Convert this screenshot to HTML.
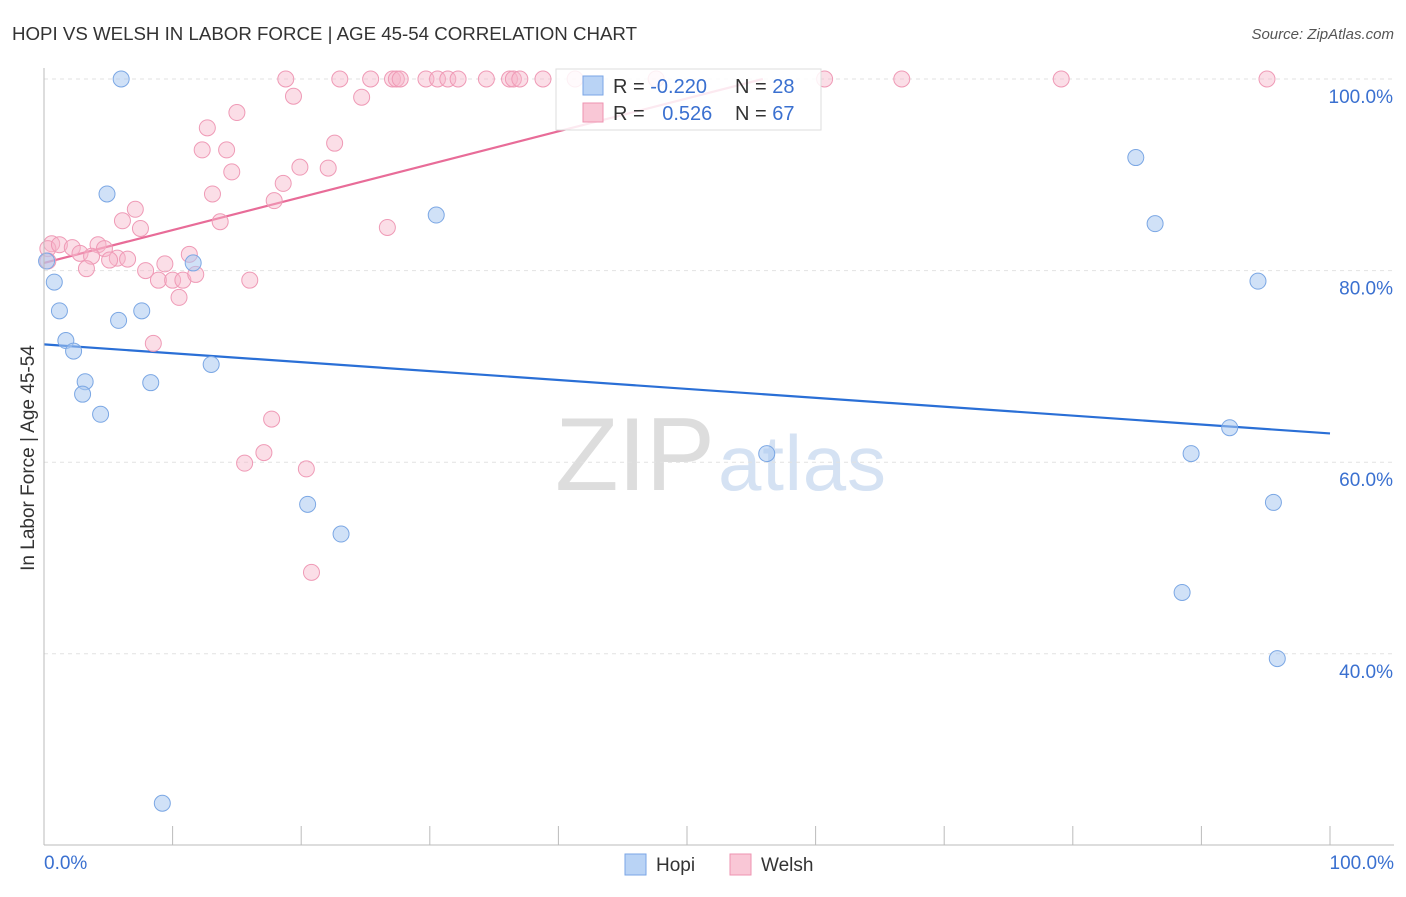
<!DOCTYPE html>
<html><head><meta charset="utf-8"><style>
body{margin:0;background:#fff;font-family:"Liberation Sans",sans-serif;}
svg text{font-family:"Liberation Sans",sans-serif;}
</style></head><body>
<svg id="c" width="1406" height="892" xmlns="http://www.w3.org/2000/svg">
<text x="12" y="40" font-size="18.7" fill="#333" textLength="625">HOPI VS WELSH IN LABOR FORCE | AGE 45-54 CORRELATION CHART</text>
<text x="1394" y="39" font-size="15" fill="#555" text-anchor="end" font-style="italic">Source: ZipAtlas.com</text>
<text x="34" y="458" font-size="19" fill="#333" text-anchor="middle" transform="rotate(-90 34 458)">In Labor Force | Age 45-54</text>
<text x="555" y="490" font-size="104" fill="#ddd" font-family="Liberation Serif" textLength="160">ZIP</text>
<text x="718" y="490" font-size="78" fill="#d5e2f3" textLength="168">atlas</text>
<g id="grid"></g><g id="ticks"></g><g id="lines"></g><g id="pts"></g>
<line x1="44" y1="68" x2="44" y2="845" stroke="#bbb"/>
<line x1="44" y1="845" x2="1394" y2="845" stroke="#bbb"/>
<text x="44" y="869" font-size="19" fill="#3a70d0">0.0%</text>
<text x="1394" y="869" font-size="19" fill="#3a70d0" text-anchor="end">100.0%</text>
<g>
<rect x="556" y="69" width="265" height="61" fill="rgba(255,255,255,0.85)" stroke="#ddd"/>
<rect x="583" y="76" width="20" height="19" fill="#b9d3f5" stroke="#7aa6e6"/>
<rect x="583" y="103" width="20" height="19" fill="#f9c7d6" stroke="#ee93b0"/>
<text x="613" y="93" font-size="20" fill="#333">R = <tspan fill="#3a70d0">-0.220</tspan></text>
<text x="735" y="93" font-size="20" fill="#333">N = <tspan fill="#3a70d0">28</tspan></text>
<text x="613" y="120" font-size="20" fill="#333">R = <tspan fill="#3a70d0" dx="12">0.526</tspan></text>
<text x="735" y="120" font-size="20" fill="#333">N = <tspan fill="#3a70d0">67</tspan></text>
</g>
<g><rect x="625" y="854" width="21" height="21" fill="#b9d3f5" stroke="#7aa6e6"/><text x="656" y="871" font-size="19" fill="#333">Hopi</text></g>
<g><rect x="730" y="854" width="21" height="21" fill="#f9c7d6" stroke="#ee93b0"/><text x="761" y="871" font-size="19" fill="#333">Welsh</text></g>
</svg>
<script>
const yTicks=[100,80,60,40];
const yTickLabels=["100.0%","80.0%","60.0%","40.0%"];
const xTicks=[0,10,20,30,40,50,60,70,80,90,100];
const hopiX=[6.0,4.9,0.2,0.8,1.2,1.7,2.3,3.2,3.0,4.4,5.8,7.6,8.3,11.6,13.0,20.5,23.1,30.5,9.2,56.2,84.9,86.4,94.4,92.2,89.2,95.6,88.5,95.9];
const hopiY=[100,88.0,81.0,78.8,75.8,72.7,71.6,68.4,67.1,65.0,74.8,75.8,68.3,80.8,70.2,55.6,52.5,85.8,24.4,60.9,91.8,84.9,78.9,63.6,60.9,55.8,46.4,39.5];
const welshX=[18.8,23.0,25.4,27.1,27.4,27.7,29.7,30.6,31.4,32.2,34.4,36.2,36.5,37.0,38.8,41.3,47.6,60.7,66.7,79.1,95.1,
19.4,24.7,15.0,12.7,12.3,14.2,22.6,14.6,19.9,22.1,18.6,13.1,17.9,7.1,6.1,13.7,7.5,26.7,0.6,0.3,1.2,2.2,4.2,4.7,2.8,3.7,5.7,5.1,6.5,11.3,3.3,7.9,9.4,8.9,10.0,10.8,11.8,16.0,10.5,8.5,17.7,17.1,15.6,20.4,20.8,0.3];
const welshY=[100,100,100,100,100,100,100,100,100,100,100,100,100,100,100,100,100,100,100,100,100,
98.2,98.1,96.5,94.9,92.6,92.6,93.3,90.3,90.8,90.7,89.1,88.0,87.3,86.4,85.2,85.1,84.4,84.5,82.8,82.3,82.7,82.4,82.7,82.3,81.8,81.5,81.3,81.1,81.2,81.7,80.2,80.0,80.7,79.0,79.0,79.0,79.6,79.0,77.2,72.4,64.5,61.0,59.9,59.3,48.5,81.0];
const hopiTrend=[[0,72.3],[100,63.0]];
const welshTrend=[[0,80.8],[55.9,100]];
const X=v=>44+v*12.86, Y=v=>79+(100-v)*9.58;
const ns="http://www.w3.org/2000/svg";
function mk(t,a,p){const e=document.createElementNS(ns,t);for(const k in a)e.setAttribute(k,a[k]);document.getElementById(p).appendChild(e);return e;}
yTicks.forEach((t,i)=>{
 const l=mk('line',{x1:44,x2:1394,y1:Y(t),y2:Y(t),stroke:'#e2e2e2','stroke-dasharray':'4 4'},'grid');
 
 
 const tx=mk('text',{x:1393,y:Y(t)+24,'font-size':19,fill:'#3a70d0','text-anchor':'end'},'grid');
 tx.textContent=yTickLabels[i];
 
 
});
xTicks.forEach(t=>{
 const l=mk('line',{x1:X(t),x2:X(t),y1:826,y2:845,stroke:'#bbb'},'ticks');
 
 
});
const hl=mk('line',{x1:X(hopiTrend[0][0]),y1:Y(hopiTrend[0][1]),x2:X(hopiTrend[1][0]),y2:Y(hopiTrend[1][1]),stroke:'#2a6fd6','stroke-width':2.2},'lines');


const wl=mk('line',{x1:X(welshTrend[0][0]),y1:Y(welshTrend[0][1]),x2:X(welshTrend[1][0]),y2:Y(welshTrend[1][1]),stroke:'#e86c98','stroke-width':2.2},'lines');


welshX.forEach((x,i)=>{
 const c=mk('circle',{cx:X(x),cy:Y(welshY[i]),r:8,fill:'rgba(247,182,202,0.45)',stroke:'#ef9ab6','stroke-width':1},'pts');
 
 
});
hopiX.forEach((x,i)=>{
 const c=mk('circle',{cx:X(x),cy:Y(hopiY[i]),r:8,fill:'rgba(170,200,240,0.55)',stroke:'#7ba7e4','stroke-width':1},'pts');
 
 
});
</script>
</body></html>
